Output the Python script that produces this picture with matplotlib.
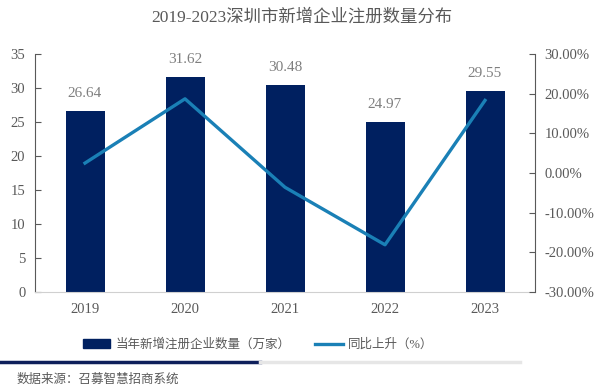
import matplotlib
matplotlib.use("Agg")
import matplotlib.pyplot as plt
from matplotlib.patches import Rectangle
from matplotlib.lines import Line2D

years = ["2019", "2020", "2021", "2022", "2023"]
counts = [26.64, 31.62, 30.48, 24.97, 29.55]
growth = [2.5, 18.7, -3.6, -18.1, 18.3]
left_ticks = [0, 5, 10, 15, 20, 25, 30, 35]
right_ticks = [-30, -20, -10, 0, 10, 20, 30]

FONT = ['Liberation Serif', 'Noto Sans CJK SC', 'DejaVu Sans']
plt.rcParams['font.family'] = FONT
BAR = '#002060'
LINE = '#1a80b6'
GRAY = '#595959'

fig = plt.figure(figsize=(6.04, 3.9), dpi=100)
ax = fig.add_axes([35/604, 1-292/390, 500/604, 238/390])
x = list(range(len(years)))
ax.bar(x, counts, width=0.39, color=BAR, zorder=2)
ax.set_xlim(-0.5, 4.5)
ax.set_ylim(0, 35)
ax.set_yticks(left_ticks)
ax.set_xticks(x)
ax.set_xticklabels(years)
for xi, v in zip(x, counts):
    ax.annotate(f"{v:.2f}", (xi, v), xytext=(0, 8), textcoords='offset points',
                ha='center', va='bottom', fontsize=11, color='#7f7f7f')
ax.tick_params(axis='y', direction='in', length=4, color='#595959', labelsize=10.5, labelcolor=GRAY, pad=7)
ax.tick_params(axis='x', length=0, labelsize=10.5, labelcolor=GRAY, pad=8)
for s in ['top', 'right']:
    ax.spines[s].set_visible(False)
ax.spines['left'].set_color('#595959')
ax.spines['bottom'].set_color('#d0d0d0')

ax2 = ax.twinx()
ax2.plot(x, growth, color=LINE, lw=2.4, zorder=3)
ax2.set_ylim(-30, 30)
ax2.set_yticks(right_ticks)
ax2.set_yticklabels([f"{t:.2f}%" for t in right_ticks])
ax2.tick_params(axis='y', direction='in', length=4, color='#595959', labelsize=10.5, labelcolor=GRAY, pad=7)
for s in ['top', 'left', 'bottom']:
    ax2.spines[s].set_visible(False)
ax2.spines['right'].set_color('#595959')

fig.text(0.5, 1-17/390, "2019-2023深圳市新增企业注册数量分布", ha='center', va='center',
         fontsize=12.5, color=GRAY)

handles = [Rectangle((0, 0), 1, 1, color=BAR), Line2D([0], [0], color=LINE, lw=2.4)]
fig.legend(handles, ["当年新增注册企业数量（万家）", "同比上升（%）"], loc='center',
           bbox_to_anchor=(258/604, 1-345/390), ncol=2, frameon=False, fontsize=9,
           labelcolor=GRAY, handlelength=2.2, columnspacing=2.0, handletextpad=0.4)

fig.add_artist(Line2D([0, 260/604], [1-362/390]*2, color='#0e1f5b', lw=2.5, transform=fig.transFigure))
fig.add_artist(Line2D([260/604, 520/604], [1-362/390]*2, color='#e6e6e6', lw=2.5, transform=fig.transFigure))
fig.text(17/604, 1-380/390, "数据来源：召募智慧招商系统", ha='left', va='center', fontsize=9, color=GRAY)

fig.savefig("out.png", dpi=100)
